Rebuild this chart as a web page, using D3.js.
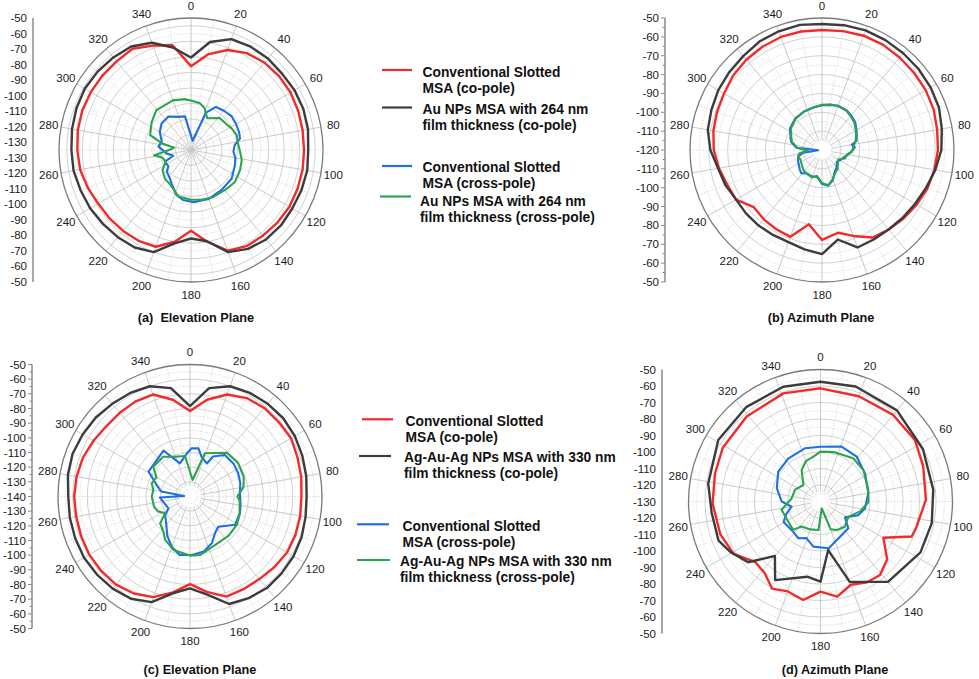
<!DOCTYPE html>
<html><head><meta charset="utf-8">
<script src="https://cdn.jsdelivr.net/npm/d3@7"></script>
<style>body{margin:0;background:#fff}svg{display:block;font-family:Arial,"Liberation Sans",sans-serif}</style>
</head><body><svg id="chart" width="979" height="679"></svg>
<script>
// ---------- data ----------
const angleTicks = [0,20,40,60,80,100,120,140,160,180,200,220,240,260,280,300,320,340];

// radial tick labels (top half of the left axis, mirrored below the centre)
const ticksA = [-50,-60,-70,-80,-90,-100,-110,-120,-130];
const ticksB = [-50,-60,-70,-80,-90,-100,-110,-120];
const ticksC = [-50,-60,-70,-80,-90,-100,-110,-120,-130,-140];
const ticksD = [-50,-60,-70,-80,-90,-100,-110,-120,-130];

const titles = ["(a)  Elevation Plane","(b) Azimuth Plane","(c) Elevation Plane","(d) Azimuth Plane"];
const legendTop = [["Conventional Slotted","MSA (co-pole)"],["Au NPs MSA with 264 nm","film thickness (co-pole)"],["Conventional Slotted","MSA (cross-pole)"],["Au NPs MSA with 264 nm","film thickness (cross-pole)"]];
const legendBottom = [["Conventional Slotted","MSA (co-pole)"],["Ag-Au-Ag NPs MSA with 330 nm","film thickness (co-pole)"],["Conventional Slotted","MSA (cross-pole)"],["Ag-Au-Ag NPs MSA with 330 nm","film thickness (cross-pole)"]];

// series: [angle (deg), level (dB)]
const aCoConv = [[0,-81],[10,-72.5],[20,-66.5],[30,-63],[40,-61.5],[50,-61],[60,-61],[70,-61.5],[80,-62],[90,-62.2],[100,-62],[110,-62],[120,-61.8],[130,-62.3],[140,-63],[150,-63.5],[160,-66],[170,-75],[180,-83],[190,-75],[200,-68.7],[210,-67.5],[220,-67],[230,-66.5],[240,-66],[250,-64.2],[260,-62.5],[270,-61.8],[280,-61],[290,-60.5],[300,-60.5],[310,-60.5],[320,-60.5],[330,-59.7],[340,-63.5],[350,-66.5]];
const aCoNP = [[0,-75.4],[10,-64.4],[20,-59],[30,-58.2],[40,-58],[50,-58.5],[60,-58],[70,-58],[80,-58.5],[90,-59.5],[100,-59],[110,-59.3],[120,-59.7],[130,-59.4],[140,-59.8],[150,-61.5],[160,-65],[170,-75.3],[180,-78],[190,-74],[200,-65],[210,-62.5],[220,-61.7],[230,-61],[240,-60],[250,-59.3],[260,-58.2],[270,-58],[280,-57.2],[290,-56.5],[300,-56],[310,-56.5],[320,-57.2],[330,-58],[340,-61.5],[350,-68]];
const aXConv = [[10,-129],[22,-109],[30,-103],[40,-102],[50,-101],[60,-101.5],[70,-102],[77,-102.6],[83,-106.5],[92,-107.7],[100,-106],[110,-105],[125,-103],[142,-102.6],[160,-101.5],[177,-101.3],[189,-102.4],[198,-104.6],[210,-110],[217,-112.3],[228,-114],[234,-117],[246,-116.7],[252,-123],[262,-119.2],[276,-113.9],[286,-115.4],[300,-111.8],[312,-109.5],[326,-109],[338,-112],[350,-113],[354,-121]];
const aXNP = [[2,-103.4],[11,-104.4],[18,-106.7],[27,-112],[42,-107.4],[54,-106.7],[62,-105.4],[72,-104],[80,-104.5],[92,-103.4],[101,-101.7],[112,-100.9],[126,-100],[140,-101.2],[155,-101.5],[168,-102.2],[180,-103],[195,-104],[211,-109],[222,-110],[235,-112.6],[245,-117],[255,-116],[262,-111],[270,-121],[278,-124],[283,-115.6],[290,-107],[305,-104],[319,-101],[340,-101],[353,-102]];

const bCoConv = [[0,-56.4],[10,-56],[20,-55.5],[30,-55.5],[40,-56],[50,-56.3],[60,-56.5],[70,-57],[80,-58],[90,-58.5],[100,-59.5],[110,-60.5],[120,-62],[130,-63.5],[140,-65],[150,-66.4],[160,-71.5],[169,-75.3],[180,-72.3],[190,-80],[200,-71],[210,-71.5],[220,-72],[230,-72.8],[240,-67.4],[250,-66.5],[260,-64.5],[270,-62.6],[280,-61.5],[290,-60.8],[300,-60],[310,-58.5],[320,-57.5],[330,-56.8],[340,-56.2],[350,-56.2]];
const bCoNP = [[0,-53.2],[10,-52.8],[20,-52.5],[30,-52.7],[40,-53],[50,-53.2],[60,-53.5],[70,-54],[80,-55.5],[90,-56.7],[100,-59],[110,-61.3],[120,-63],[130,-64.1],[140,-65],[150,-65.2],[160,-65],[170,-71.8],[180,-64.8],[190,-66.5],[200,-68],[210,-68],[220,-67.7],[230,-67.5],[240,-67.4],[250,-65.5],[260,-64],[270,-60.8],[280,-58.5],[290,-57.6],[300,-56.5],[310,-55.8],[320,-55],[330,-53.6],[340,-53],[350,-52.6]];
const bXConv = [[0,-96.3],[10,-95.7],[20,-95],[32,-95.2],[40,-96],[50,-97],[58,-98.5],[67,-100],[75,-101],[80,-104],[85,-102.5],[93,-104.3],[100,-106],[110,-108],[120,-109],[128,-110],[140,-108],[150,-106.6],[160,-103],[170,-100.8],[180,-102],[191,-105.6],[200,-105],[213,-105.2],[222,-103.5],[230,-104.5],[245,-106],[255,-107],[262,-110],[266,-118],[275,-106.4],[285,-103],[292,-102],[304,-99.5],[320,-98],[335,-97.5],[350,-97]];
const bXNP = [[0,-96],[10,-95.5],[20,-95.2],[32,-95.5],[40,-96.5],[50,-97.5],[58,-99],[67,-100.3],[75,-101.5],[82,-103],[93,-104],[100,-106.5],[110,-107],[120,-110],[130,-109],[140,-107],[150,-106],[160,-103.5],[170,-101],[180,-102.5],[191,-106],[200,-104.5],[213,-105],[222,-105.5],[232,-106.5],[245,-107.5],[255,-106.8],[262,-108],[268,-112.5],[275,-107],[285,-103.5],[292,-102.5],[304,-100],[320,-98.3],[335,-97.5],[350,-96.8]];

const cCoConv = [[0,-81.7],[10,-73],[20,-66],[30,-62.5],[40,-61.2],[50,-61],[60,-60.5],[70,-62],[80,-63],[90,-64],[100,-63.7],[110,-63.5],[120,-63.6],[130,-65],[140,-66.5],[150,-67],[160,-67.4],[170,-74],[180,-80.3],[190,-73.6],[200,-67],[210,-63.6],[220,-61.5],[230,-61],[240,-60.7],[250,-61],[260,-61.2],[270,-61],[280,-61.5],[290,-62.3],[300,-64],[310,-65.5],[320,-65.5],[330,-65.3],[340,-66],[350,-73]];
const cCoNP = [[0,-78.3],[10,-65],[20,-60],[30,-58.4],[40,-57.5],[50,-57],[60,-57.5],[70,-58.5],[80,-59.5],[90,-60.5],[100,-60],[110,-59],[120,-58.5],[130,-58.5],[140,-58.5],[150,-60],[160,-62],[170,-72],[180,-77.4],[190,-73],[200,-63.4],[210,-59.5],[220,-58],[230,-57.2],[240,-56.6],[250,-56.7],[260,-56.8],[270,-57],[280,-55.5],[290,-54.8],[300,-55.5],[310,-56.2],[320,-57.5],[330,-58.5],[340,-60],[350,-65]];
const cXConv = [[2,-107.1],[10,-106.7],[16,-111.7],[27,-114.7],[30,-108.5],[40,-103],[53,-102.8],[64,-103.5],[75,-104.5],[86,-105.9],[100,-105],[108,-104.1],[122,-103.7],[137,-111.8],[145,-110],[155,-104.8],[166,-101.3],[178,-100.1],[190,-99.5],[200,-103.6],[210,-109],[218,-114],[233,-118.8],[241,-123.2],[255,-122],[268,-119.5],[275,-136],[280,-120],[289,-116],[301,-107],[318,-106.3],[330,-103.8],[343,-116.4],[356,-110.5]];
const cXNP = [[9,-128.6],[19,-108.8],[40,-101],[55,-100],[70,-101],[80,-103],[90,-107.7],[95,-106],[110,-104],[121,-102.7],[135,-102.5],[151,-102.9],[170,-99.5],[180,-99.7],[197,-101.8],[210,-106],[217,-109.9],[228,-112.6],[236,-119.5],[245,-116],[254,-114.5],[270,-113.9],[280,-114.6],[289,-112.4],[300,-113.6],[309,-107.8],[326,-107.3],[339,-111],[353,-112.2]];

const dCoConv = [[0,-61.4],[20,-62.1],[40,-61.5],[57,-61.7],[71,-64.2],[89,-66.1],[105,-69.8],[111,-70.8],[120,-86],[131,-76.5],[141,-72.7],[150,-73.5],[160,-76.3],[170,-71.5],[180,-75.4],[190,-69.4],[200,-72],[209,-69.6],[218,-75],[227,-76.1],[239,-68.5],[252,-66.1],[269,-64.6],[285,-63.8],[299,-62.4],[319,-61.8],[341,-60.7]];
const dCoNP = [[0,-57.4],[17,-57.1],[40,-57.9],[63,-60.3],[84,-61.3],[101,-61.3],[117,-62],[140,-66.4],[160,-78.2],[171,-100.2],[180,-81.4],[190,-83.7],[210,-75],[220,-87],[230,-72.7],[241,-67.3],[249,-63.8],[264,-63.7],[279,-61.1],[301,-57.7],[322,-57.2],[342,-56.9]];
const dXConv = [[0,-96.8],[21,-94.4],[39,-95.1],[58,-98.1],[80,-100.6],[99,-102.7],[110,-105.7],[123,-112.3],[134,-106.6],[157,-104.7],[170,-101.2],[189,-102.3],[201,-106.2],[211,-104],[225,-105.4],[241,-104.4],[250,-108],[260,-112.2],[270,-106.5],[287,-102.3],[305,-98.7],[323,-97.4],[344,-96.4]];
const dXNP = [[0,-99.8],[15,-99],[37,-97.1],[54,-97.8],[76,-100.2],[91,-101],[104,-105.3],[119,-110.8],[136,-108.7],[150,-110],[160,-112],[170,-125.8],[184,-112.7],[200,-112],[217,-111],[224,-106.1],[240,-107],[258,-105.9],[276,-112.4],[295,-113],[314,-115.6],[329,-107.8],[340,-104],[351,-102.5]];

// ---------- drawing ----------
const colors = {red:"#f32a2a", dark:"#3c3c3c", blue:"#1f6fe3", green:"#2ca34f"};
const svg = d3.select("#chart");
svg.append("rect").attr("width",979).attr("height",679).attr("fill","#fff");

const panels = [
  {cx:191, cy:150, R:132, inner:-135, outer:-50, axisX:33, ticks:ticksA, hole:0, minor:false, title:titles[0], tx:196, ty:322,
   series:[[aCoConv,colors.red],[aCoNP,colors.dark],[aXConv,colors.blue],[aXNP,colors.green]]},
  {cx:822, cy:150, R:132, inner:-120, outer:-50, axisX:665, ticks:ticksB, hole:10, minor:true, title:titles[1], tx:821, ty:322,
   series:[[bCoConv,colors.red],[bCoNP,colors.dark],[bXConv,colors.blue],[bXNP,colors.green]]},
  {cx:190, cy:496.5, R:132, inner:-140, outer:-50, axisX:32, ticks:ticksC, hole:11, minor:true, title:titles[2], tx:200, ty:674,
   series:[[cCoConv,colors.red],[cCoNP,colors.dark],[cXConv,colors.blue],[cXNP,colors.green]]},
  {cx:820.5, cy:501.5, R:132, inner:-130, outer:-50, axisX:662, ticks:ticksD, hole:10, minor:false, title:titles[3], tx:835, ty:674,
   series:[[dCoConv,colors.red],[dCoNP,colors.dark],[dXConv,colors.blue],[dXNP,colors.green]]}
];

panels.forEach(p => {
  const r = d3.scaleLinear().domain([p.inner, p.outer]).range([0, p.R]).clamp(true);
  const g = svg.append("g").attr("transform", `translate(${p.cx},${p.cy})`);
  // grid circles every 5 dB
  const rings = d3.range(p.inner + 5, p.outer, 5);
  g.selectAll("circle.ring").data(rings).join("circle")
    .attr("r", d => r(d)).attr("fill","none")
    .attr("stroke", d => ((d - p.inner) % 10 === 0) ? "#c4c4c4" : "#d4d4d4")
    .attr("stroke-width", 0.8)
    .attr("stroke-dasharray", d => ((d - p.inner) % 10 === 0) ? null : "1.5,1.5");
  // spokes
  const spokes = d3.range(0, 360, 10);
  g.selectAll("line.spoke").data(spokes).join("line")
    .attr("x1", d => Math.sin(d*Math.PI/180)*p.hole)
    .attr("y1", d => -Math.cos(d*Math.PI/180)*p.hole)
    .attr("x2", d => Math.sin(d*Math.PI/180)*p.R)
    .attr("y2", d => -Math.cos(d*Math.PI/180)*p.R)
    .attr("stroke", d => d % 20 === 0 ? "#bdbdbd" : "#d4d4d4")
    .attr("stroke-width", 0.8)
    .attr("stroke-dasharray", d => d % 20 === 0 ? null : "1.5,1.5");
  // outer circle
  g.append("circle").attr("r", p.R).attr("fill","none").attr("stroke","#7a7a7a").attr("stroke-width",1.3);
  // angle labels
  g.selectAll("text.ang").data(angleTicks).join("text")
    .attr("x", d => Math.sin(d*Math.PI/180)*(p.R+12.5))
    .attr("y", d => -Math.cos(d*Math.PI/180)*(p.R+12.5))
    .attr("text-anchor","middle").attr("dominant-baseline","central")
    .attr("font-size","11.5px").attr("fill","#1a1a1a").text(d => d);
  // curves
  const line = d3.lineRadial()
    .angle(d => d[0]*Math.PI/180)
    .radius(d => r(d[1]))
    .curve(d3.curveLinearClosed);
  p.series.forEach(([data, col], i) => {
    g.append("path").attr("d", line(data)).attr("fill","none")
      .attr("stroke", col).attr("stroke-width", i < 2 ? 2.4 : 2.1)
      .attr("stroke-linejoin","round");
  });
  // left radial axis (mirrored)
  const ax = svg.append("g");
  ax.append("line").attr("x1",p.axisX).attr("x2",p.axisX)
    .attr("y1",p.cy - p.R).attr("y2",p.cy + p.R)
    .attr("stroke","#8a8a8a").attr("stroke-width",1.5);
  const top = p.ticks.map(v => ({v, y: p.cy - r(v)}));
  const bottom = p.ticks.filter(v => r(v) > 0.5).map(v => ({v, y: p.cy + r(v)})).reverse();
  const all = top.concat(bottom);
  ax.selectAll("text").data(all).join("text")
    .attr("x", p.axisX - 6).attr("y", d => d.y)
    .attr("text-anchor","end").attr("dominant-baseline","central")
    .attr("font-size","11.5px").attr("fill","#1a1a1a").text(d => d.v);
  if (p.minor) {
    ax.selectAll("line.tk").data(all).join("line")
      .attr("x1", p.axisX - 4).attr("x2", p.axisX).attr("y1", d => d.y).attr("y2", d => d.y)
      .attr("stroke","#8a8a8a").attr("stroke-width",1);
    const half = (all[1].y - all[0].y) / 2;
    ax.selectAll("line.mn").data(all.slice(0,-1)).join("line")
      .attr("x1", p.axisX - 2.5).attr("x2", p.axisX).attr("y1", d => d.y + half).attr("y2", d => d.y + half)
      .attr("stroke","#8a8a8a").attr("stroke-width",1);
  }
  // title
  svg.append("text").attr("x", p.tx).attr("y", p.ty).attr("text-anchor","middle")
    .style("white-space","pre")
    .attr("font-size","12.7px").attr("font-weight","bold").attr("fill","#111").text(p.title);
});

// legends
function legend(entries, items) {
  const lg = svg.append("g");
  items.forEach((it, i) => {
    lg.append("line").attr("x1", it.x1).attr("x2", it.x2).attr("y1", it.ly).attr("y2", it.ly)
      .attr("stroke", it.col).attr("stroke-width", 2.2);
    entries[i].forEach((t, j) => {
      lg.append("text").attr("x", it.tx).attr("y", it.by + j*16.3)
        .attr("font-size","13.8px").attr("font-weight","bold").attr("fill","#111").text(t);
    });
  });
}
legend(legendTop, [
  {col:colors.red, x1:382, x2:412, ly:70, tx:422.5, by:77},
  {col:colors.dark, x1:382, x2:412, ly:107.5, tx:422.5, by:113.5},
  {col:colors.blue, x1:382, x2:412, ly:166, tx:422.5, by:172},
  {col:colors.green, x1:380, x2:411, ly:196.5, tx:420, by:206}
]);
legend(legendBottom, [
  {col:colors.red, x1:362, x2:393, ly:419.3, tx:405.5, by:425.5},
  {col:colors.dark, x1:359, x2:391, ly:456, tx:404, by:462},
  {col:colors.blue, x1:357, x2:389, ly:524.3, tx:402.5, by:530.5},
  {col:colors.green, x1:357, x2:390, ly:560, tx:400, by:566}
]);
</script>
</body></html>
